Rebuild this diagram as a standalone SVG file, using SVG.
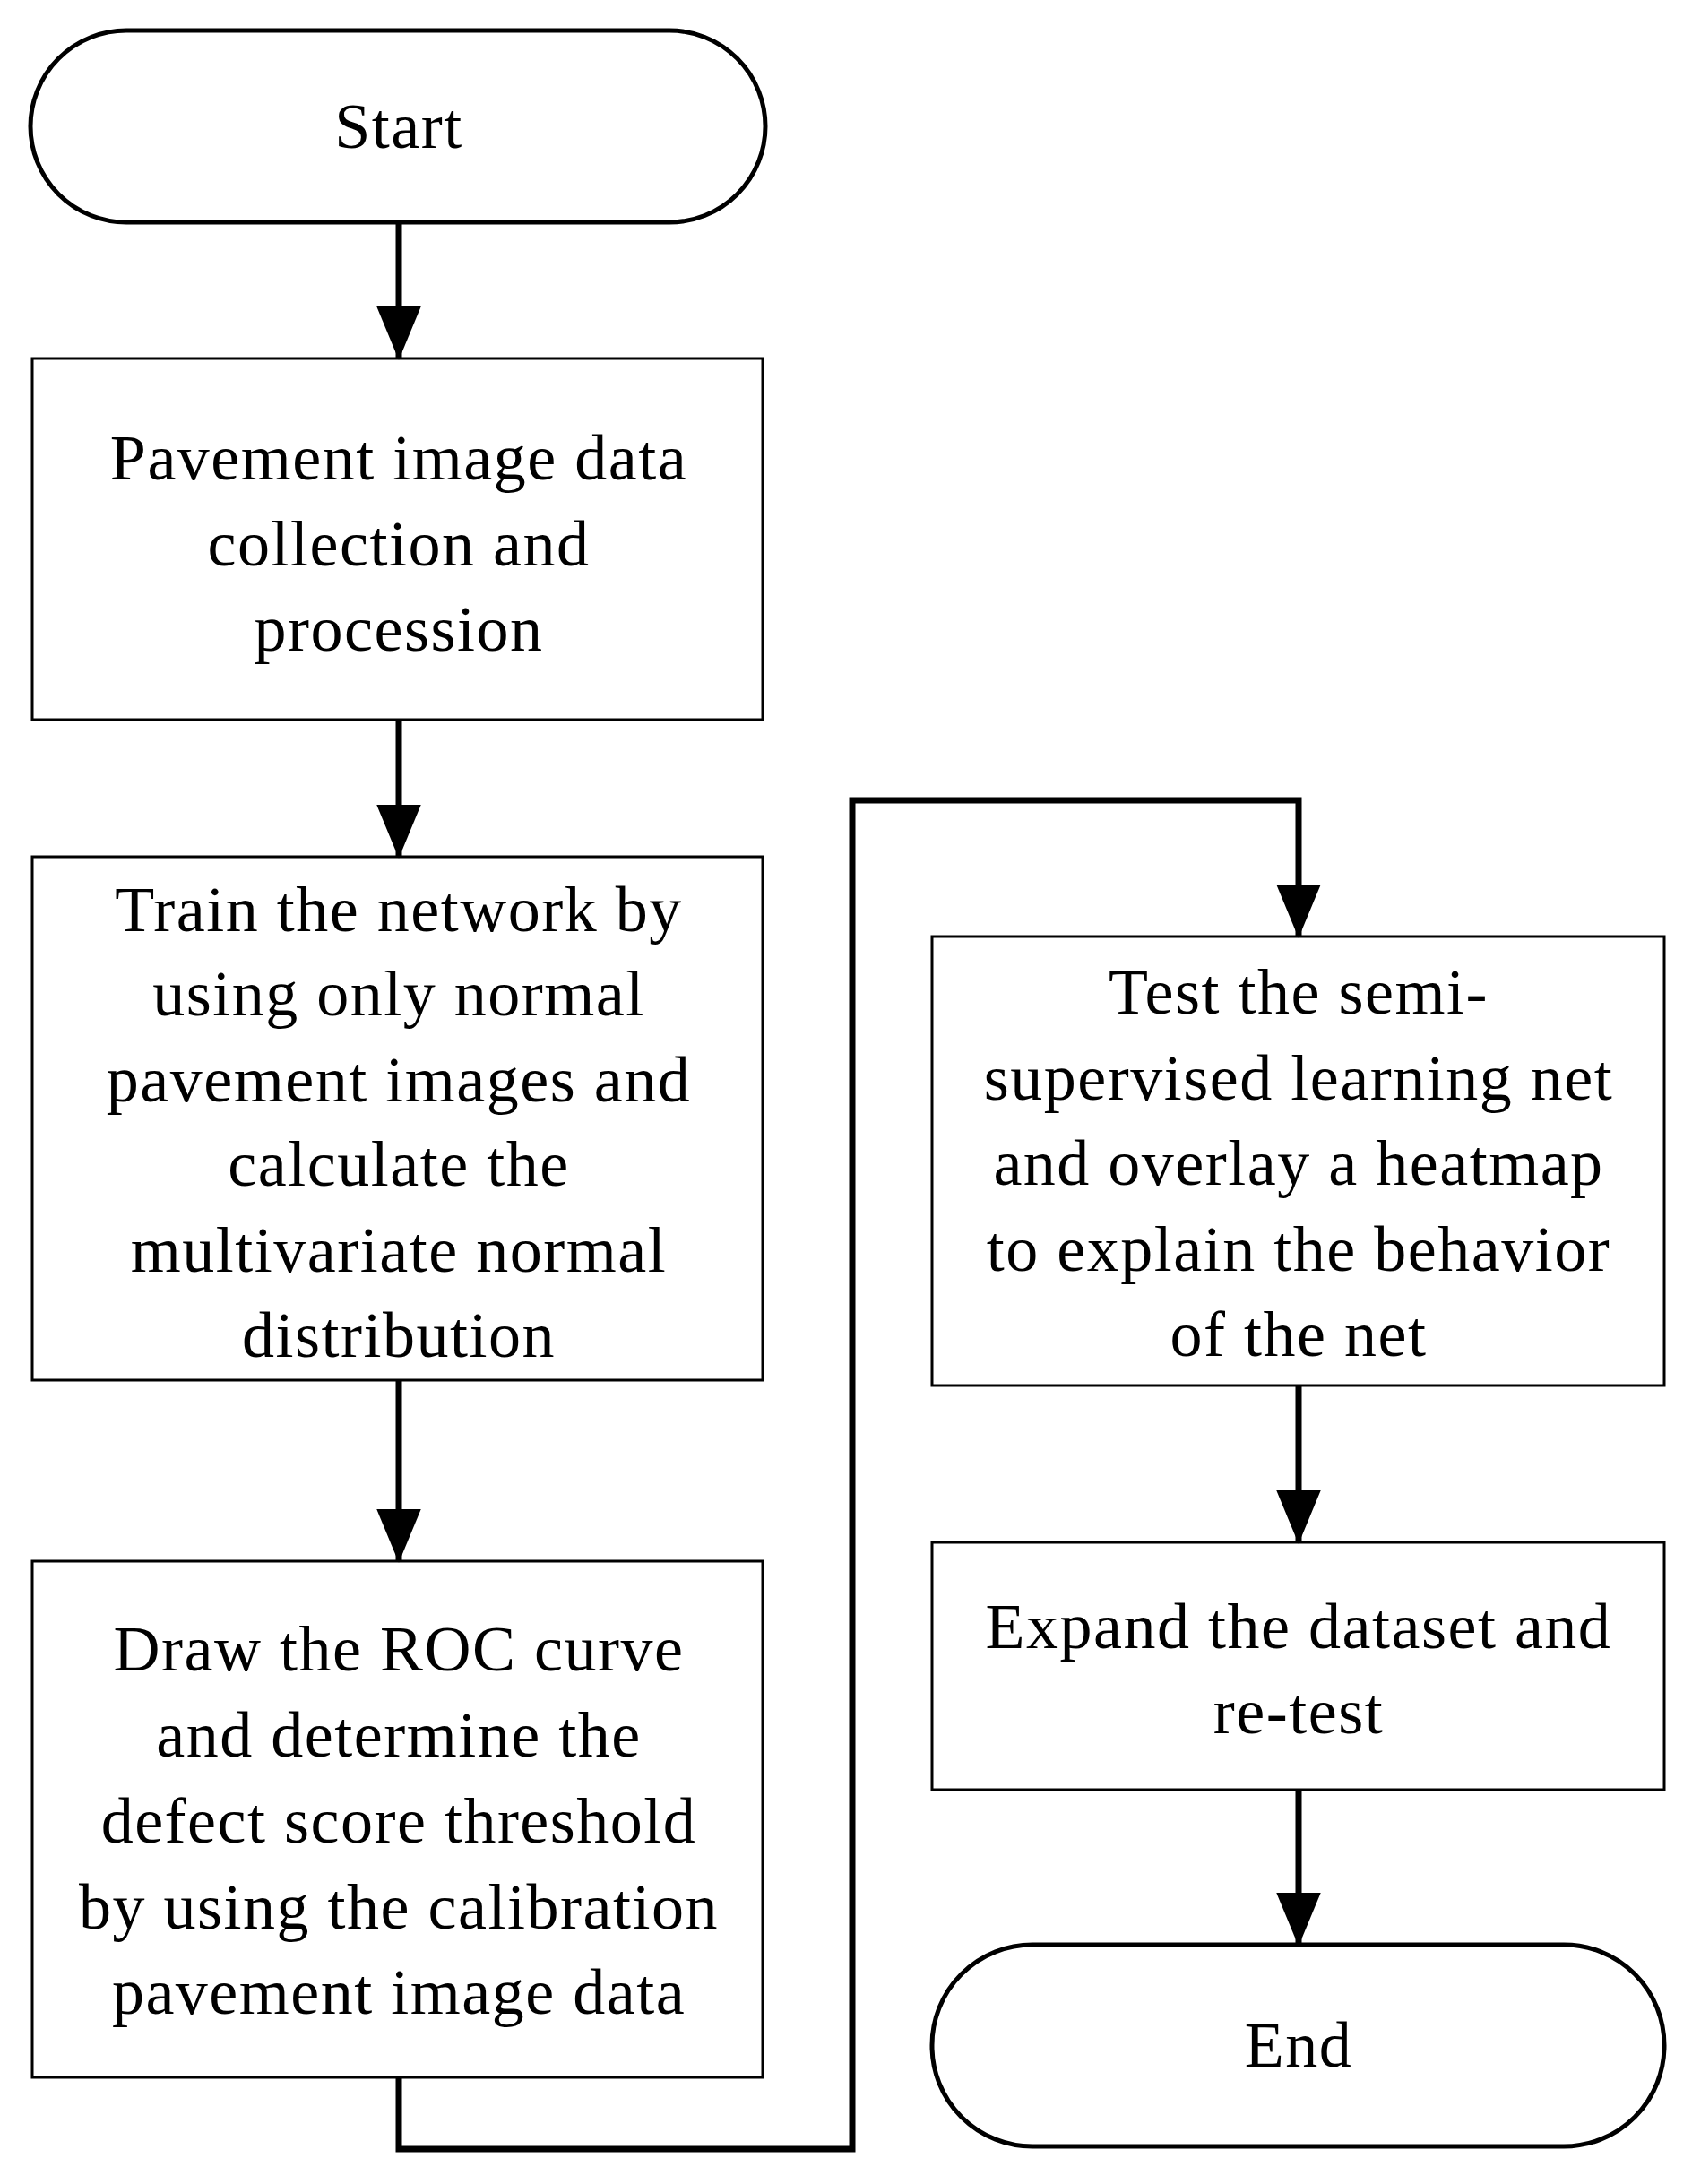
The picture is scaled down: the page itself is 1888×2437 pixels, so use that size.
<svg xmlns="http://www.w3.org/2000/svg" width="1888" height="2437" viewBox="0 0 1888 2437">
<style>
.b{fill:#fff;stroke:#000;stroke-width:3}
.r{stroke-width:5}
.t{font-family:"Liberation Serif",serif;font-size:72px;letter-spacing:1.5px;text-anchor:middle;fill:#000}
.c{fill:none;stroke:#000;stroke-width:7}
</style>
<defs><marker id="a" markerUnits="userSpaceOnUse" markerWidth="60" markerHeight="72" refX="68" refY="29" orient="auto" viewBox="0 0 70 58"><path d="M0,0L70,29L0,58Z"/></marker></defs>
<rect width="1888" height="2437" fill="#fff"/>
<g id="start"><rect class="b r" x="34" y="34" width="820" height="214" rx="107"/><text class="t" x="445" y="165">Start</text></g>
<g id="n1"><rect class="b" x="36" y="400" width="815" height="403"/><text class="t" x="445" y="535">Pavement image data</text><text class="t" x="445" y="631">collection and</text><text class="t" x="445" y="726">procession</text></g>
<g id="n2"><rect class="b" x="36" y="956" width="815" height="584"/><text class="t" x="445" y="1039">Train the network by</text><text class="t" x="445" y="1133">using only normal</text><text class="t" x="445" y="1229">pavement images and</text><text class="t" x="445" y="1323">calculate the</text><text class="t" x="445" y="1419">multivariate normal</text><text class="t" x="445" y="1514">distribution</text></g>
<g id="n3"><rect class="b" x="36" y="1742" width="815" height="576"/><text class="t" x="445" y="1864">Draw the ROC curve</text><text class="t" x="445" y="1960">and determine the</text><text class="t" x="445" y="2056">defect score threshold</text><text class="t" x="445" y="2152">by using the calibration</text><text class="t" x="445" y="2247">pavement image data</text></g>
<g id="n4"><rect class="b" x="1040" y="1045" width="817" height="501"/><text class="t" x="1449" y="1131">Test the semi-</text><text class="t" x="1449" y="1227">supervised learning net</text><text class="t" x="1449" y="1322">and overlay a heatmap</text><text class="t" x="1449" y="1418">to explain the behavior</text><text class="t" x="1449" y="1513">of the net</text></g>
<g id="n5"><rect class="b" x="1040" y="1721" width="817" height="276"/><text class="t" x="1449" y="1839">Expand the dataset and</text><text class="t" x="1449" y="1934">re-test</text></g>
<g id="end"><rect class="b r" x="1040" y="2170" width="817" height="225" rx="112"/><text class="t" x="1449" y="2306">End</text></g>
<g id="connectors">
<path class="c" marker-end="url(#a)" d="M445,248V400"/>
<path class="c" marker-end="url(#a)" d="M445,803V956"/>
<path class="c" marker-end="url(#a)" d="M445,1540V1742"/>
<path class="c" marker-end="url(#a)" d="M445,2318V2398H951V893H1449V1045"/>
<path class="c" marker-end="url(#a)" d="M1449,1546V1721"/>
<path class="c" marker-end="url(#a)" d="M1449,1997V2170"/>
</g>
</svg>
